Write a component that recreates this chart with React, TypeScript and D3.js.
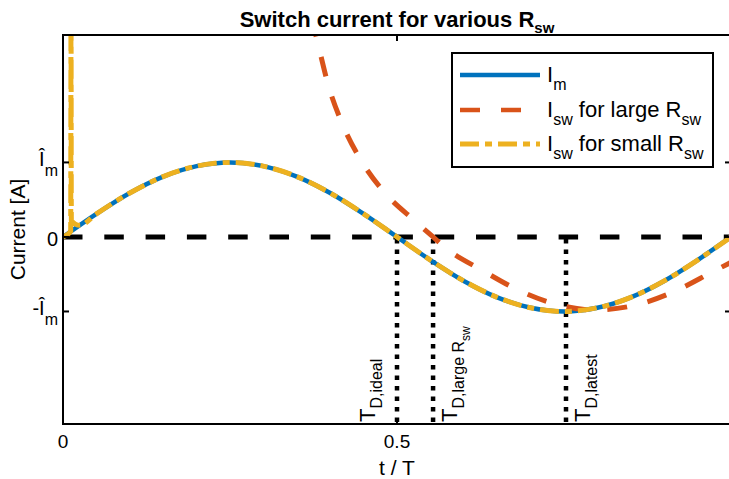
import React from 'react';
import * as d3 from 'd3';

const W = 729;
const H = 479;

// t / T grid and the magnetizing current (in units of Î_m)
const tGrid = [0, 0.05, 0.1, 0.15, 0.2, 0.25, 0.3, 0.35, 0.4, 0.45, 0.5, 0.55, 0.6, 0.65, 0.7, 0.75, 0.8, 0.85, 0.9, 0.95, 1];
const imValues = [0, 0.31, 0.59, 0.81, 0.95, 1.0, 0.95, 0.81, 0.59, 0.31, 0, -0.31, -0.59, -0.81, -0.95, -1.0, -0.95, -0.81, -0.59, -0.31, 0];

// switch current, large R_sw
const largeT = [0.372, 0.382, 0.397, 0.418, 0.446, 0.482, 0.527, 0.554, 0.576, 0.626, 0.681, 0.737, 0.795, 0.859, 0.918, 0.972, 1.0];
const largeValues = [2.95, 2.58, 2.04, 1.52, 1.03, 0.59, 0.215, 0.0, -0.17, -0.44, -0.71, -0.9, -0.98, -0.91, -0.72, -0.47, -0.34];

// switch current, small R_sw (spike right after t = 0, then follows I_m)
const smallSpikeT = [0, 0.0115, 0.012, 0.0125, 0.025];
const smallSpikeValues = [0, 0.075, 3.2, 0.22, 0.156];

// dead-time markers
const markerT = [0.5, 0.554, 0.753];
const markerSub = ['D,ideal', 'D,large R', 'D,latest'];
const markerSubSub = ['', 'sw', ''];

const yTicks = [1, 0, -1];
const yTickMain = ['Î', '0', '-Î'];
const yTickSub = ['m', '', 'm'];
const xTicks = [0, 0.5];
const xTickLabels = ['0', '0.5'];

const legendMain = ['I', 'I', 'I'];
const legendSub = ['m', 'sw', 'sw'];
const legendRest = ['', ' for large R', ' for small R'];
const legendRestSub = ['', 'sw', 'sw'];

const BLUE = '#0072BD';
const RED = '#D95319';
const YELLOW = '#EDB120';
const FONT = '"Liberation Sans", Arial, Helvetica, sans-serif';

export default function App() {
  const left = 63, right = 731, top = 35, bottom = 424;
  const x = d3.scaleLinear().domain([0, 1]).range([left, right]);
  const y = d3.scaleLinear().domain([-2.51, 2.71]).range([bottom, top]);

  const line = d3
    .line<[number, number]>()
    .x((d) => x(d[0]))
    .y((d) => y(d[1]))
    .curve(d3.curveMonotoneX);

  const imPts: [number, number][] = tGrid.map((t, i) => [t, imValues[i]]);
  const largePts: [number, number][] = largeT.map((t, i) => [t, largeValues[i]]);
  const smallPts: [number, number][] = [
    ...smallSpikeT.map((t, i) => [t, smallSpikeValues[i]] as [number, number]),
    ...imPts.filter((d) => d[0] > 0.03),
  ];

  const lineStyles = [
    { color: BLUE, width: 4.5, dash: undefined as string | undefined },
    { color: RED, width: 4.5, dash: '20 21' },
    { color: YELLOW, width: 5, dash: '19 6 7 6' },
  ];

  const markerDx = [-22, 24, 24];
  const legRowY = [75, 110, 144];

  return (
    <svg
      width={W}
      height={H}
      style={{ position: 'fixed', left: 0, top: 0, background: '#fff' }}
      fontFamily={FONT}
    >
      <defs>
        <clipPath id="plotClip">
          <rect x={left} y={top} width={right - left} height={bottom - top} />
        </clipPath>
      </defs>
      <rect width={W} height={H} fill="#fff" />

      {/* title */}
      <text x={(left + right) / 2} y={27} textAnchor="middle" fontSize={22} fontWeight="bold">
        Switch current for various R
        <tspan fontSize={15} dy={6}>sw</tspan>
      </text>

      <g clipPath="url(#plotClip)">
        {/* zero line */}
        <line x1={left} x2={right} y1={y(0)} y2={y(0)} stroke="#000" strokeWidth={5} strokeDasharray="19.5 21.8" />
        {/* dead-time markers */}
        {markerT.map((t, i) => (
          <line key={i} x1={x(t)} x2={x(t)} y1={y(0) + 2} y2={bottom} stroke="#000" strokeWidth={4.5} strokeDasharray="4.5 6" />
        ))}
        <path d={line(imPts) || ''} fill="none" stroke={BLUE} strokeWidth={4.5} />
        <path d={line(largePts) || ''} fill="none" stroke={RED} strokeWidth={5} strokeDasharray="20 21" />
        <path d={line(smallPts) || ''} fill="none" stroke={YELLOW} strokeWidth={5} strokeDasharray="19 6 7 6" />
      </g>

      {/* marker labels */}
      {markerT.map((t, i) => (
        <text key={i} transform={`translate(${x(t) + markerDx[i]},422) rotate(-90)`} fontSize={22}>
          T
          <tspan fontSize={16} dy={7}>{markerSub[i]}</tspan>
          {markerSubSub[i] && (
            <tspan fontSize={12} dy={6}>{markerSubSub[i]}</tspan>
          )}
        </text>
      ))}

      {/* axes box */}
      <rect x={left} y={top} width={right - left} height={bottom - top} fill="none" stroke="#000" strokeWidth={2} />
      {yTicks.map((v) => (
        <g key={v}>
          <line x1={left} x2={left + 6} y1={y(v)} y2={y(v)} stroke="#000" strokeWidth={2} />
          <line x1={right - 6} x2={right} y1={y(v)} y2={y(v)} stroke="#000" strokeWidth={2} />
        </g>
      ))}
      {xTicks.map((v) => (
        <g key={v}>
          <line x1={x(v)} x2={x(v)} y1={bottom} y2={bottom - 6} stroke="#000" strokeWidth={2} />
          <line x1={x(v)} x2={x(v)} y1={top} y2={top + 6} stroke="#000" strokeWidth={2} />
        </g>
      ))}

      {/* y tick labels */}
      {yTicks.map((v, i) => (
        <text key={v} x={58} y={y(v) + (yTickSub[i] ? 4 : 9)} textAnchor="end" fontSize={20}>
          {yTickMain[i]}
          {yTickSub[i] && <tspan fontSize={16} dy={10}>{yTickSub[i]}</tspan>}
        </text>
      ))}

      {/* x tick labels */}
      {xTicks.map((v, i) => (
        <text key={v} x={x(v)} y={448} textAnchor="middle" fontSize={19}>
          {xTickLabels[i]}
        </text>
      ))}

      {/* axis labels */}
      <text x={(left + right) / 2} y={475} textAnchor="middle" fontSize={21}>t / T</text>
      <text transform={`translate(25,${(top + bottom) / 2}) rotate(-90)`} textAnchor="middle" fontSize={21}>
        Current [A]
      </text>

      {/* legend */}
      <rect x={452} y={53} width={261} height={114} fill="#fff" stroke="#000" strokeWidth={2} />
      {lineStyles.map((s, i) => (
        <g key={i}>
          <line x1={460} x2={540} y1={legRowY[i]} y2={legRowY[i]} stroke={s.color} strokeWidth={s.width} strokeDasharray={s.dash} />
          <text x={547} y={legRowY[i] + 7} fontSize={22}>
            {legendMain[i]}
            <tspan fontSize={16} dy={8}>{legendSub[i]}</tspan>
            {legendRest[i] && (
              <>
                <tspan dy={-8}>{legendRest[i]}</tspan>
                <tspan fontSize={16} dy={8}>{legendRestSub[i]}</tspan>
              </>
            )}
          </text>
        </g>
      ))}
    </svg>
  );
}
